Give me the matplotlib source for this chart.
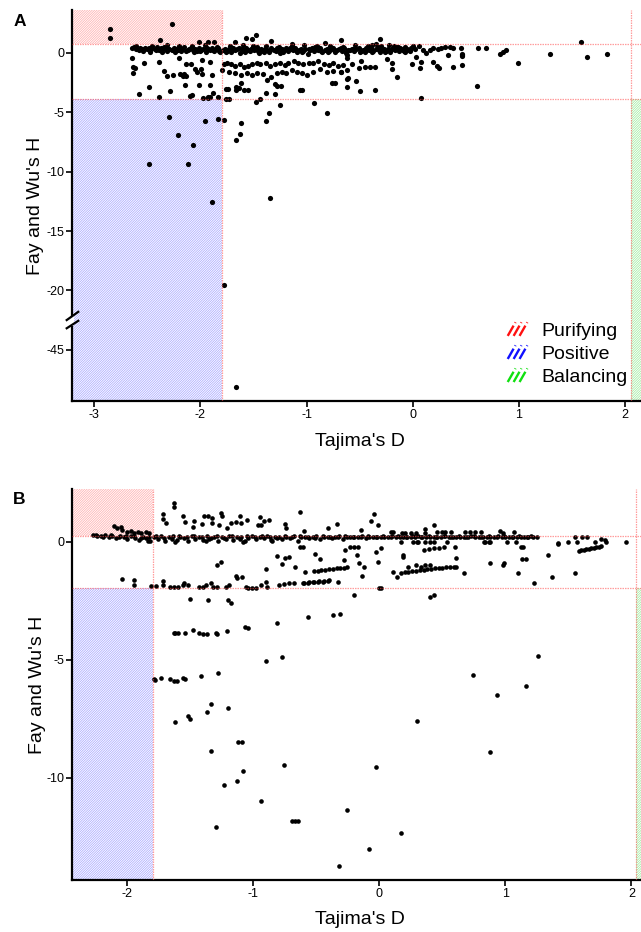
import numpy as np
import matplotlib
matplotlib.use("Agg")
import matplotlib.pyplot as plt
from matplotlib.patches import Rectangle, Patch
from matplotlib.lines import Line2D
from matplotlib.legend_handler import HandlerBase

plt.rcParams['font.family'] = ['Liberation Sans', 'DejaVu Sans']
plt.rcParams['axes.unicode_minus'] = False
plt.rcParams['hatch.linewidth'] = 0.55

# ---------------- Panel A data (Tajima's D, Fay and Wu's H) ----------------
a_band = [
    (-2.64, 0.38), (-2.62, 0.45), (-2.60, 0.30), (-2.57, 0.42), (-2.55, 0.35), (-2.52, 0.40), (-2.50, 0.28),
    (-2.48, 0.44), (-2.46, 0.36), (-2.43, 0.31), (-2.41, 0.47), (-2.39, 0.22), (-2.37, 0.38), (-2.35, 0.30),
    (-2.33, 0.43), (-2.31, 0.18), (-2.29, 0.35), (-2.27, 0.26), (-2.25, 0.41), (-2.23, 0.33), (-2.21, 0.20),
    (-2.19, 0.37), (-2.17, 0.28), (-2.15, 0.45), (-2.13, 0.12), (-2.11, 0.30), (-2.09, 0.39), (-2.07, 0.24),
    (-2.05, 0.33), (-2.03, 0.16), (-2.01, 0.42), (-1.99, 0.27), (-1.97, 0.35), (-1.95, 0.08), (-1.93, 0.30),
    (-1.91, 0.22), (-1.89, 0.38), (-1.87, 0.15), (-1.85, 0.28), (-1.83, 0.40), (-1.81, 0.05), (-1.79, 0.25),
    (-1.77, 0.34), (-1.75, 0.18), (-1.73, 0.30), (-1.71, 0.10), (-1.69, 0.42), (-1.67, 0.22), (-1.65, 0.33),
    (-1.63, 0.02), (-1.61, 0.28), (-1.59, 0.19), (-1.57, 0.38), (-1.55, 0.25), (-1.53, 0.12), (-1.51, 0.34),
    (-1.49, 0.20), (-1.47, 0.45), (-1.45, -0.05), (-1.43, 0.30), (-1.41, 0.15), (-1.39, 0.36), (-1.37, 0.24),
    (-1.35, 0.08), (-1.33, 0.41), (-1.31, 0.26), (-1.29, 0.18), (-1.27, 0.33), (-1.25, -0.02), (-1.23, 0.29),
    (-1.21, 0.21), (-1.19, 0.39), (-1.17, 0.12), (-1.15, 0.31), (-1.13, 0.24), (-1.11, 0.44), (-1.09, 0.06),
    (-1.07, 0.27), (-1.05, 0.35), (-1.03, 0.17), (-1.01, 0.30), (-0.99, -0.10), (-0.97, 0.23), (-0.95, 0.38),
    (-0.93, 0.14), (-0.91, 0.28), (-0.89, 0.20), (-0.87, 0.42), (-0.85, 0.03), (-0.83, 0.26), (-0.81, 0.33),
    (-0.79, 0.16), (-0.77, 0.29), (-0.75, 0.40), (-0.73, 0.09), (-0.71, 0.24), (-0.69, 0.31), (-0.67, 0.18),
    (-0.65, 0.37), (-0.63, -0.06), (-0.61, 0.27), (-0.59, 0.21), (-0.57, 0.35), (-0.55, 0.12), (-0.53, 0.30),
    (-0.51, 0.43), (-0.49, 0.19), (-0.47, 0.26), (-0.45, 0.05), (-0.43, 0.33), (-0.41, 0.22), (-0.39, 0.38),
    (-0.37, 0.15), (-0.35, 0.28), (-0.33, 0.47), (-0.31, 0.10), (-0.29, 0.24), (-0.27, 0.34), (-0.25, 0.18),
    (-0.23, 0.29), (-0.21, 0.08), (-0.19, 0.40), (-0.17, 0.22), (-0.15, 0.31), (-0.13, 0.14), (-0.11, 0.36),
    (-0.09, 0.25), (-0.07, 0.05), (-0.05, 0.30), (-0.03, 0.19),
    (-2.58, 0.20), (-2.54, 0.15), (-2.47, 0.10), (-2.42, 0.25), (-2.36, 0.05), (-2.30, 0.28), (-2.24, 0.10),
    (-2.18, 0.15), (-2.12, 0.25), (-2.06, 0.05), (-2.00, 0.18), (-1.94, 0.40), (-1.88, 0.25), (-1.82, 0.18),
    (-1.76, 0.08), (-1.70, 0.26), (-1.64, 0.38), (-1.58, 0.05), (-1.52, 0.28), (-1.46, 0.15), (-1.40, 0.05),
    (-1.34, 0.20), (-1.28, 0.40), (-1.22, 0.10), (-1.16, 0.38), (-1.10, 0.20), (-1.04, 0.08), (-0.98, 0.32),
    (-0.92, 0.45), (-0.86, 0.18), (-0.80, 0.05), (-0.74, 0.20), (-0.68, 0.42), (-0.62, 0.15), (-0.56, 0.28),
    (-0.50, 0.05), (-0.44, 0.40), (-0.38, 0.10), (-0.32, 0.25), (-0.26, 0.05), (-0.20, 0.30), (-0.14, 0.45),
    (-0.08, 0.15), (-0.02, 0.38),
    (-2.60, 0.55), (-2.45, 0.60), (-2.34, 0.52), (-2.20, 0.58), (-2.08, 0.55), (-1.96, 0.62), (-1.84, 0.50),
    (-1.72, 0.57), (-1.60, 0.62), (-1.50, 0.55), (-1.38, 0.60), (-1.26, 0.52), (-1.14, 0.58), (-1.02, 0.62),
    (-0.90, 0.55), (-0.78, 0.60), (-0.66, 0.52), (-0.54, 0.62), (-0.42, 0.55), (-0.30, 0.60), (-0.18, 0.55),
]
a_right = [
    (0.02, 0.30), (0.06, 0.59), (0.10, 0.20), (0.12, 0.0), (0.16, 0.23), (0.19, 0.37), (0.24, 0.28),
    (0.27, 0.37), (0.30, 0.50), (0.35, 0.50), (0.38, 0.37), (0.45, 0.37), (0.46, -0.11), (0.46, -0.28),
    (0.61, 0.37), (0.69, 0.37), (0.82, -0.11), (0.85, 0.08), (0.88, 0.23), (0.99, -0.84), (1.29, -0.08),
    (1.58, 0.93), (1.64, -0.39), (1.83, -0.08), (-0.15, 0.50), (-0.12, 0.37), (-0.07, 0.50), (-0.04, 0.23),
    (0.00, 0.56),
]
a_scatter = [
    (-2.85, 1.97), (-2.85, 1.26), (-2.27, 2.39), (-2.38, 1.07), (-2.01, 0.88), (-1.93, 0.88), (-1.87, 0.88),
    (-1.57, 1.21), (-1.48, 1.49), (-1.51, 1.13), (-1.33, 1.01), (-1.14, 0.73), (-0.83, 0.79), (-0.68, 1.07),
    (-1.67, 0.88), (-2.31, 0.65), (-0.31, 1.13), (-0.35, 0.73), (-0.38, 0.65), (-0.22, 0.65),
    (-2.64, -0.42), (-2.63, -1.68), (-2.61, -1.26), (-2.53, -0.9), (-2.39, -0.78), (-2.63, -1.18), (-2.2, -0.47),
    (-2.13, -0.98), (-2.09, -0.98), (-2.05, -1.4), (-2.03, -1.6), (-1.99, -1.4), (-1.98, -1.82), (-1.98, -0.61),
    (-1.91, -0.76), (-1.89, -1.88), (-2.34, -1.5), (-2.31, -1.96), (-2.26, -1.9), (-2.19, -1.75), (-2.15, -1.8),
    (-2.16, -1.93), (-2.13, -1.96),
    (-2.58, -3.5), (-2.48, -2.92), (-2.39, -3.76), (-2.28, -3.25), (-2.14, -2.72), (-2.01, -2.72), (-1.91, -2.72),
    (-2.10, -3.64), (-2.08, -3.58), (-1.97, -3.79), (-1.93, -3.75), (-1.93, -3.84), (-1.91, -3.7), (-1.88, -3.42),
    (-1.83, -3.76), (-1.76, -3.87), (-1.73, -3.87), (-1.74, -3.05), (-1.66, -3.17), (-1.66, -2.9), (-1.62, -2.58),
    (-1.59, -3.16), (-1.55, -3.16), (-1.38, -3.42), (-1.30, -3.47), (-1.30, -2.65), (-1.24, -2.8), (-1.28, -2.8),
    (-1.04, -3.14), (-0.93, -4.26), (-0.81, -5.1), (-1.48, -4.12), (-1.44, -3.9), (-1.25, -4.4), (-1.76, -3.08),
    (-1.64, -2.95),
    (-2.29, -5.44), (-2.21, -6.9), (-2.48, -9.37), (-2.12, -9.34), (-2.07, -7.77), (-1.96, -5.72), (-1.83, -5.55),
    (-1.78, -5.69), (-1.89, -12.57), (-1.66, -7.35), (-1.63, -6.87), (-1.62, -5.92), (-1.34, -12.26),
    (-1.38, -5.75), (-1.35, -5.05), (-1.78, -19.5), (-1.66, -48.1),
    (-0.76, -2.58), (-0.73, -2.58), (-0.68, -1.6), (-0.61, -2.16), (-0.62, -2.24), (-0.62, -2.86), (-0.53, -2.36),
    (-0.50, -3.22), (-0.36, -3.14), (-0.57, -0.95), (-0.51, -1.26), (-0.49, -0.67), (-0.45, -1.23), (-0.40, -1.23),
    (-0.36, -1.18), (-0.62, -0.2), (-0.62, -0.47), (-0.66, -1.03),
    (-0.24, -0.56), (-0.2, -0.9), (-0.2, -1.4), (-0.15, -2.02), (-0.01, -0.95), (0.03, -0.34), (0.07, -1.32),
    (0.08, -0.76), (0.19, -0.76), (0.23, -1.12), (0.25, -1.32), (0.33, -0.2), (0.38, -1.23), (0.46, -1.03),
    (0.46, -0.2), (0.60, -2.78), (0.08, -3.84), (-1.06, -3.14),
    (-1.78, -0.98), (-1.75, -0.9), (-1.71, -0.98), (-1.67, -1.12), (-1.63, -0.98), (-1.59, -1.18), (-1.55, -1.12),
    (-1.51, -0.98), (-1.47, -0.84), (-1.44, -0.98), (-1.38, -0.9), (-1.34, -1.12), (-1.30, -0.98), (-1.25, -0.84),
    (-1.20, -1.03), (-1.17, -0.84), (-1.12, -0.7), (-1.08, -0.9), (-1.03, -0.98), (-0.98, -0.84), (-0.94, -0.9),
    (-0.89, -0.7), (-0.84, -0.98), (-0.79, -1.03), (-0.75, -0.9), (-0.70, -1.12),
    (-1.80, -1.46), (-1.73, -1.6), (-1.67, -1.74), (-1.62, -1.88), (-1.56, -1.74), (-1.51, -1.88), (-1.47, -1.68),
    (-1.41, -1.82), (-1.37, -2.3), (-1.33, -2.02), (-1.28, -1.74), (-1.23, -1.6), (-1.19, -1.74), (-1.14, -1.46),
    (-1.09, -1.6), (-1.04, -1.74), (-1.00, -1.88), (-0.94, -1.6), (-0.87, -1.4), (-0.81, -1.6), (-0.75, -1.51),
    (-0.68, -1.6), (-0.62, -1.46),
]
a_thr_up, a_thr_low = 0.71, -3.9
a_d_low, a_d_high = -1.8, 2.05

# ---------------- Panel B data ----------------
b_band = [
    (-2.27, 0.28), (-2.24, 0.25), (-2.21, 0.22), (-2.18, 0.27), (-2.15, 0.18), (-2.12, 0.24), (-2.09, 0.15),
    (-2.06, 0.26), (-2.03, 0.20), (-2.00, 0.12), (-1.97, 0.23), (-1.94, 0.17), (-1.91, 0.08), (-1.88, 0.21),
    (-1.85, 0.14), (-1.82, 0.03), (-1.79, 0.19), (-1.76, 0.10), (-1.73, 0.22), (-1.70, 0.05), (-1.67, 0.18),
    (-1.64, 0.25), (-1.61, 0.09), (-1.58, 0.20), (-1.55, 0.14), (-1.52, 0.02), (-1.49, 0.22), (-1.46, 0.11),
    (-1.43, 0.18), (-1.40, 0.06), (-1.37, 0.24), (-1.34, 0.15), (-1.31, 0.20), (-1.28, 0.03), (-1.25, 0.19),
    (-1.22, 0.12), (-1.19, 0.25), (-1.16, 0.08), (-1.13, 0.18), (-1.10, 0.21), (-1.07, 0.04), (-1.04, 0.16),
    (-1.01, 0.23), (-0.98, 0.10), (-0.95, 0.19), (-0.92, 0.14), (-0.89, 0.22), (-0.86, 0.07), (-0.83, 0.18),
    (-0.80, 0.21), (-0.77, 0.12), (-0.74, 0.20), (-0.71, 0.16), (-0.68, 0.22), (-0.65, 0.05), (-0.62, 0.19),
    (-0.59, 0.21), (-0.56, 0.14), (-0.53, 0.20), (-0.50, 0.22), (-0.47, 0.10), (-0.44, 0.19), (-0.41, 0.21),
    (-0.38, 0.17), (-0.35, 0.20), (-0.32, 0.22), (-0.29, 0.12), (-0.26, 0.19), (-0.23, 0.21), (-0.20, 0.18),
    (-0.17, 0.20), (-0.14, 0.22), (-0.11, 0.15), (-0.08, 0.19), (-0.05, 0.21), (-0.02, 0.20), (0.01, 0.18),
    (0.04, 0.21), (0.07, 0.20), (0.10, 0.22), (0.13, 0.19), (0.16, 0.21), (0.19, 0.20), (0.22, 0.18),
    (0.25, 0.21), (0.28, 0.20), (0.31, 0.22), (0.34, 0.19), (0.37, 0.21), (0.40, 0.20), (0.43, 0.18),
    (0.46, 0.21), (0.49, 0.20), (0.52, 0.22), (0.55, 0.19), (0.58, 0.21), (0.61, 0.20), (0.64, 0.18),
    (0.67, 0.21), (0.70, 0.20), (0.73, 0.22), (0.76, 0.19), (0.79, 0.21), (0.82, 0.20), (0.85, 0.18),
    (0.88, 0.21), (0.91, 0.20), (0.94, 0.22), (0.97, 0.19), (1.00, 0.21), (1.03, 0.20), (1.06, 0.18),
    (1.09, 0.21), (1.12, 0.20), (1.15, 0.21), (1.18, 0.20), (1.22, 0.21), (1.25, 0.21),
    (-2.25, 0.30), (-2.19, 0.20), (-2.13, 0.28), (-2.07, 0.18), (-2.01, 0.25), (-1.95, 0.22), (-1.89, 0.15),
    (-1.83, 0.20), (-1.77, 0.26), (-1.71, 0.16), (-1.65, 0.12), (-1.59, 0.24), (-1.53, 0.18), (-1.47, 0.25),
    (-1.41, 0.20), (-1.35, 0.10), (-1.29, 0.23), (-1.23, 0.17), (-1.17, 0.22), (-1.11, 0.13), (-1.05, 0.24),
    (-0.99, 0.18), (-0.93, 0.22), (-0.87, 0.19), (-0.81, 0.15), (-0.75, 0.23), (-0.69, 0.18), (-0.63, 0.22),
    (-0.57, 0.20), (-0.51, 0.17), (-0.45, 0.23), (-0.39, 0.20), (-0.33, 0.18), (-0.27, 0.22), (-0.21, 0.20),
    (-0.15, 0.18), (-0.09, 0.22), (-0.03, 0.19), (0.03, 0.22), (0.09, 0.19), (0.15, 0.22), (0.21, 0.19),
    (0.27, 0.22), (0.33, 0.19), (0.39, 0.22), (0.45, 0.19), (0.51, 0.22), (0.57, 0.19), (0.63, 0.22),
    (0.69, 0.19), (0.75, 0.22), (0.81, 0.19), (0.87, 0.22), (0.93, 0.19), (0.99, 0.22), (1.05, 0.19),
    (1.11, 0.22), (1.17, 0.19), (1.20, 0.22),
    (-1.84, 0.02), (-1.62, -0.02), (-1.38, 0.04), (-1.08, -0.03), (-0.85, 0.05), (-0.61, -0.21),
    (0.17, 0.0), (0.27, 0.0), (0.31, 0.0), (0.54, 0.0), (0.84, -0.02), (0.88, -0.02),
]
b_upper = [
    (-2.11, 0.67), (-2.08, 0.57), (-2.05, 0.64), (-2.04, 0.50), (-2.00, 0.42), (-1.97, 0.45), (-1.95, 0.38),
    (-1.92, 0.41), (-1.89, 0.36), (-1.85, 0.41), (-1.83, 0.36),
    (-1.63, 1.63), (-1.63, 1.48), (-1.72, 1.17), (-1.72, 0.95), (-1.69, 0.80), (-1.56, 1.10), (-1.54, 0.85),
    (-1.47, 0.89), (-1.48, 0.61), (-1.41, 0.74), (-1.39, 1.09), (-1.36, 1.09), (-1.33, 0.99), (-1.33, 0.78),
    (-1.26, 1.20), (-1.25, 1.09), (-1.27, 0.71), (-1.21, 0.57), (-1.18, 0.78), (-1.14, 0.85), (-1.11, 1.09),
    (-1.10, 0.80), (-1.05, 0.92), (-0.95, 1.03), (-0.92, 0.88), (-0.88, 0.92), (-0.96, 0.71), (-0.94, 0.71),
    (-0.75, 0.74), (-0.74, 0.57), (-0.63, 1.25), (-0.60, 0.45), (-0.41, 0.57), (-0.34, 0.75), (-0.07, 0.88),
    (-0.04, 1.17), (-0.01, 0.71), (-0.15, 0.50), (0.09, 0.42), (0.11, 0.42), (0.18, 0.36), (0.20, 0.36),
    (0.25, 0.38), (0.29, 0.38), (0.36, 0.52), (0.36, 0.38), (0.43, 0.71), (0.46, 0.40), (0.50, 0.40),
    (0.52, 0.40), (0.57, 0.40), (0.68, 0.42), (0.72, 0.42), (0.76, 0.42), (0.81, 0.42), (0.96, 0.45),
    (0.98, 0.38), (1.07, 0.42),
]
b_mid = [
    (-2.04, -1.58), (-1.95, -1.62), (-1.95, -1.83), (-1.81, -1.88), (-1.77, -1.88), (-1.72, -1.66),
    (-1.72, -1.83), (-1.66, -1.91), (-1.63, -1.91), (-1.60, -1.91), (-1.56, -1.83), (-1.55, -1.74),
    (-1.52, -1.83), (-1.43, -1.91), (-1.40, -1.93), (-1.38, -1.83), (-1.34, -1.76), (-1.32, -1.93),
    (-1.29, -1.91), (-1.22, -1.91), (-1.19, -1.83), (-1.14, -1.45), (-1.13, -1.55), (-1.09, -1.48),
    (-1.06, -1.91), (-1.04, -1.95), (-1.01, -1.95), (-0.98, -1.95), (-0.94, -1.83), (-0.90, -1.69),
    (-0.89, -1.91), (-0.90, -1.17), (-0.80, -1.83), (-0.76, -1.79), (-0.72, -1.76), (-0.68, -1.76),
    (-0.60, -1.76), (-0.56, -1.72), (-0.52, -1.72), (-0.48, -1.67), (-0.44, -1.67), (-0.40, -1.62),
    (-0.61, -1.76), (-0.57, -1.76), (-0.53, -1.72), (-0.49, -1.69), (-0.45, -1.69), (-0.41, -1.66),
    (-0.33, -1.72), (0.01, -1.97), (0.00, -1.95),
    (-1.29, -0.99), (-1.26, -0.87), (-0.81, -0.59), (-0.75, -0.70), (-0.72, -0.66), (-0.77, -0.96),
    (-0.67, -1.08), (-0.59, -1.27), (-0.51, -0.53), (-0.47, -0.75), (-0.63, -0.21),
    (-0.52, -1.24), (-0.49, -1.22), (-0.46, -1.20), (-0.43, -1.18), (-0.40, -1.16), (-0.37, -1.15),
    (-0.34, -1.13), (-0.31, -1.11), (-0.28, -1.10), (-0.26, -1.09),
    (-0.28, -0.78), (-0.27, -0.35), (-0.23, -0.24), (-0.20, -0.21), (-0.17, -0.21), (-0.18, -0.58),
    (-0.16, -0.92), (-0.12, -1.08), (-0.14, -1.45), (-0.03, -0.42), (-0.01, -0.85), (0.01, -0.28),
    (0.11, -1.27), (0.14, -1.48),
    (0.17, -1.31), (0.20, -1.29), (0.23, -1.27), (0.26, -1.25), (0.29, -1.23), (0.32, -1.21), (0.35, -1.19),
    (0.38, -1.17), (0.41, -1.15), (0.44, -1.13), (0.47, -1.12), (0.50, -1.10), (0.53, -1.08), (0.56, -1.07),
    (0.59, -1.06), (0.23, -1.06), (0.29, -0.99), (0.33, -1.06), (0.36, -0.99), (0.40, -0.99),
    (0.19, -0.56), (0.19, -0.66), (0.35, -0.35), (0.39, -0.31), (0.43, -0.28), (0.47, -0.25), (0.51, -0.24),
    (0.30, 0.0), (0.36, 0.0), (0.40, 0.0), (0.43, 0.0), (0.60, -0.24), (0.61, -0.70), (0.61, -1.06),
    (0.67, -1.31), (0.83, 0.0), (0.87, 0.0), (0.88, -0.92), (0.99, -0.89), (0.98, -0.99), (1.01, 0.0),
    (1.08, 0.0), (1.12, -0.21), (1.14, -0.21), (1.13, -0.75), (1.16, -0.75), (1.10, -1.34), (1.23, -1.76),
    (1.34, -0.56), (1.37, -1.51), (1.42, -0.04), (1.42, -0.10), (1.50, 0.0), (1.55, 0.21), (1.57, 0.0),
    (1.55, -1.34), (1.61, 0.19), (1.65, 0.19),
    (1.58, -0.38), (1.60, -0.36), (1.62, -0.34), (1.64, -0.32), (1.66, -0.30), (1.68, -0.28), (1.70, -0.26),
    (1.72, -0.23), (1.74, -0.21), (1.76, -0.18),
    (1.71, 0.0), (1.76, 0.11), (1.79, 0.07), (1.80, 0.0), (1.96, 0.0),
]
b_low = [
    (-1.50, -2.44), (-1.36, -2.47), (-1.20, -2.47), (-1.18, -2.58), (-0.81, -3.46), (-0.57, -3.18),
    (-0.37, -3.11), (-0.31, -3.06), (-0.20, -2.26), (0.40, -2.33), (0.43, -2.26),
    (-1.63, -3.88), (-1.62, -3.88), (-1.60, -3.86), (-1.54, -3.86), (-1.48, -3.75), (-1.43, -3.88),
    (-1.40, -3.91), (-1.37, -3.91), (-1.30, -3.86), (-1.29, -3.91), (-1.21, -3.80), (-1.07, -3.60),
    (-1.04, -3.67), (-0.90, -5.04), (-0.77, -4.87),
    (-1.79, -5.83), (-1.78, -5.86), (-1.73, -5.79), (-1.66, -5.83), (-1.63, -5.89), (-1.61, -5.89),
    (-1.56, -5.75), (-1.54, -5.82), (-1.42, -5.68), (-1.28, -5.55), (-1.34, -6.86), (-1.37, -7.22),
    (-1.20, -7.05), (-1.62, -7.64), (-1.52, -7.39), (-1.50, -7.51), (-1.34, -8.88), (-1.12, -8.47),
    (-1.09, -8.47), (-1.08, -9.72), (-1.13, -10.13), (-1.23, -10.31), (-0.76, -9.45), (-0.94, -10.97),
    (-1.30, -12.06), (-0.69, -11.81), (-0.67, -11.81), (-0.65, -11.81),
    (1.26, -4.83), (0.74, -5.65), (1.16, -6.09), (0.93, -6.50), (0.30, -7.58), (-0.03, -9.52), (0.88, -8.92),
    (-0.26, -11.37), (0.17, -12.34), (-0.08, -13.02), (-0.32, -13.73),
]
b_thr_up, b_thr_low = 0.24, -1.95
b_d_low, b_d_high = -1.8, 2.04

legend_labels = ['Purifying', 'Positive', 'Balancing']
legend_colors = ['#ff1010', '#1010ff', '#10e010']

W, H = 641, 932
fig = plt.figure(figsize=(W / 100, H / 100), dpi=100)


def px_axes(left, top, right, bottom):
    return fig.add_axes([left / W, 1 - bottom / H, (right - left) / W, (bottom - top) / H])


def fwd(y):
    y = np.asarray(y, dtype=float)
    return np.where(y >= -22.5, y, np.where(y <= -42.5, y + 20.0, -22.5))


def inv(t):
    t = np.asarray(t, dtype=float)
    return np.where(t >= -22.5, t, t - 20.0)


red_h = (1.0, 0.3, 0.3, 0.45)
blue_h = (0.25, 0.25, 1.0, 0.45)
green_h = (0.2, 0.85, 0.2, 0.45)
line_c = (1.0, 0.3, 0.3, 0.55)
HATCH = '/' * 14


def style_axes(ax):
    for s in ['top', 'right']:
        ax.spines[s].set_visible(False)
    for s in ['left', 'bottom']:
        ax.spines[s].set_linewidth(1.6)
    ax.tick_params(direction='out', length=4, width=1.2, labelsize=9, pad=1.5, colors='black')


def regions(ax, xlo, xhi, ylo, yhi, d_low, d_high, t_up, t_low):
    ax.add_patch(Rectangle((xlo, t_up), d_low - xlo, yhi - t_up, facecolor='none',
                           edgecolor=red_h, hatch=HATCH, lw=0, zorder=0.5))
    ax.add_patch(Rectangle((xlo, ylo), d_low - xlo, t_low - ylo, facecolor='none',
                           edgecolor=blue_h, hatch=HATCH, lw=0, zorder=0.5))
    ax.add_patch(Rectangle((d_high, ylo), xhi - d_high + 1, t_low - ylo, facecolor='none',
                           edgecolor=green_h, hatch=HATCH, lw=0, zorder=0.5))
    for yv in (t_up, t_low):
        ax.axhline(yv, color=line_c, lw=0.9, ls=(0, (1.2, 0.8)), zorder=3)
    for xv in (d_low, d_high):
        ax.axvline(xv, color=line_c, lw=0.9, ls=(0, (1.2, 0.8)), zorder=3)


class HatchHandler(HandlerBase):
    """Legend swatch: three short, slightly broken diagonal strokes."""
    def create_artists(self, legend, orig_handle, xdescent, ydescent, width, height, fontsize, trans):
        color = orig_handle.get_edgecolor()
        arts = []
        for k in range(3):
            x0 = -xdescent + k * width * 0.38
            xs = [x0, x0 + width * 0.5]
            ys = [-ydescent, -ydescent + height]
            arts.append(Line2D(xs, ys, color=color, lw=1.7, solid_capstyle='butt',
                               dash_capstyle='butt', ls=(0, (5.0, 1.3)), transform=trans))
        return arts


# ---------------- Panel A ----------------
axA = px_axes(72, 10, 641, 401)
axA.set_yscale('function', functions=(fwd, inv))
a_all = a_band + a_right + a_scatter
ax_x = [p[0] for p in a_all]
ax_y = [p[1] for p in a_all]
axA.scatter(ax_x, ax_y, s=14, color='black', linewidths=0, zorder=2)
A_XLIM = (-3.207, 2.148)
A_YLIM = (-49.3, 3.6)
axA.set_xlim(*A_XLIM)
axA.set_ylim(*A_YLIM)
regions(axA, A_XLIM[0], A_XLIM[1], A_YLIM[0], A_YLIM[1], a_d_low, a_d_high, a_thr_up, a_thr_low)
axA.set_xticks([-3, -2, -1, 0, 1, 2])
axA.set_yticks([-45, -20, -15, -10, -5, 0])
axA.set_yticklabels(['-45', '-20', '-15', '-10', '-5', '0'])
style_axes(axA)

# break marks on y axis
axA.add_patch(Rectangle((-0.006, 0.193), 0.009, 0.024, transform=axA.transAxes,
                        facecolor='white', edgecolor='none', clip_on=False, zorder=5))
axA.plot([-0.0093, 0.011], [0.207, 0.228], transform=axA.transAxes, color='black',
         lw=1.6, clip_on=False, zorder=6)
axA.plot([-0.0093, 0.011], [0.186, 0.205], transform=axA.transAxes, color='black',
         lw=1.6, clip_on=False, zorder=6)

handles = [Patch(facecolor='none', edgecolor=c) for c in legend_colors]
leg = axA.legend(handles, legend_labels, loc='lower right',
                 bbox_to_anchor=(628 / W, 1 - 386 / H), bbox_transform=fig.transFigure,
                 frameon=False, fontsize=14, handlelength=0.8, handleheight=0.7,
                 handletextpad=0.95, labelspacing=0.28, borderpad=0, borderaxespad=0,
                 handler_map={Patch: HatchHandler()})
leg.set_zorder(7)

fig.text(20 / W, 1 - 21 / H, 'A', fontsize=12.5, fontweight='bold', ha='center', va='center')
fig.text(36 / W, 1 - 206 / H, "Fay and Wu's H", fontsize=14, rotation=90, ha='center', va='center')
fig.text(360 / W, 1 - 441 / H, "Tajima's D", fontsize=14, ha='center', va='center')

# ---------------- Panel B ----------------
axB = px_axes(72, 489, 641, 880)
b_all = b_band + b_upper + b_mid + b_low
bx = [p[0] for p in b_all]
by = [p[1] for p in b_all]
axB.scatter(bx, by, s=11, color='black', linewidths=0, zorder=2)
B_XLIM = (-2.44, 2.076)
B_YLIM = (-14.32, 2.23)
axB.set_xlim(*B_XLIM)
axB.set_ylim(*B_YLIM)
regions(axB, B_XLIM[0], B_XLIM[1], B_YLIM[0], B_YLIM[1], b_d_low, b_d_high, b_thr_up, b_thr_low)
axB.set_xticks([-2, -1, 0, 1, 2])
axB.set_yticks([-10, -5, 0])
style_axes(axB)

fig.text(19.5 / W, 1 - 499 / H, 'B', fontsize=12.5, fontweight='bold', ha='center', va='center')
fig.text(38 / W, 1 - 685 / H, "Fay and Wu's H", fontsize=14, rotation=90, ha='center', va='center')
fig.text(360 / W, 1 - 920 / H, "Tajima's D", fontsize=14, ha='center', va='center')

fig.savefig('out.png', dpi=100)
